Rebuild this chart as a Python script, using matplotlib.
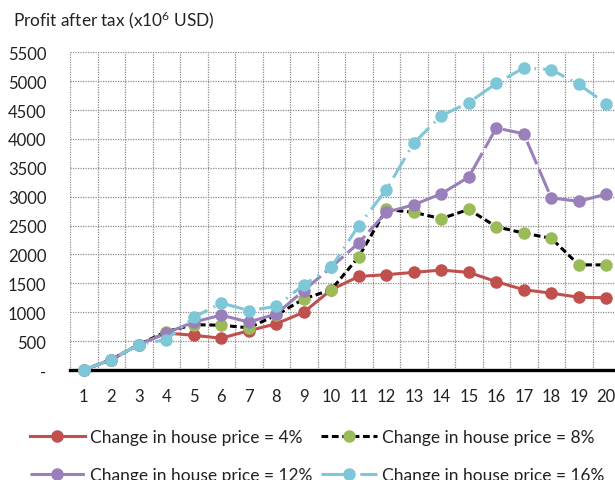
import matplotlib
matplotlib.use("Agg")
import matplotlib.pyplot as plt
from matplotlib.ticker import FixedLocator, FuncFormatter

plt.rcParams['font.family'] = ['Lato', 'DejaVu Sans']
plt.rcParams['mathtext.default'] = 'regular'

# ---------------------------------------------------------------------------
# Data
# ---------------------------------------------------------------------------
years = list(range(1, 21))

price_4 = [0, 180, 440, 640, 600, 550, 680, 800, 1000, 1390,
           1620, 1650, 1690, 1730, 1690, 1530, 1390, 1330, 1260, 1250]
price_8 = [0, 180, 440, 665, 785, 775, 730, 950, 1230, 1390,
           1960, 2780, 2730, 2620, 2780, 2480, 2370, 2280, 1820, 1820]
price_12 = [0, 180, 440, 640, 830, 950, 830, 970, 1375, 1780,
            2200, 2730, 2860, 3050, 3340, 4190, 4090, 2980, 2920, 3045]
price_16 = [0, 180, 440, 525, 910, 1160, 1030, 1100, 1475, 1780,
            2500, 3120, 3930, 4400, 4630, 4960, 5230, 5200, 4945, 4610]

labels = ['Change in house price = 4%', 'Change in house price = 8%',
          'Change in house price = 12%', 'Change in house price = 16%']

y_ticks = list(range(0, 5501, 500))

# ---------------------------------------------------------------------------
# Figure
# ---------------------------------------------------------------------------
fig = plt.figure(figsize=(6.15, 4.81), dpi=100)
ax = fig.add_axes([70 / 615, 1 - 371 / 481, 550 / 615, (371 - 53.3) / 481])

RED = '#C0504D'
GREEN = '#9BBB59'
PURPLE = '#9A80BB'
CYAN = '#7EC7D8'
LW = 2.2
MS = 8

l1, = ax.plot(years, price_4, color=RED, lw=LW, marker='o', ms=MS,
              mec=RED, mfc=RED, clip_on=False, zorder=3)
l2, = ax.plot(years, price_8, color='black', lw=LW, ls=(0, (2.2, 1.2)),
              marker='o', ms=MS, mec=GREEN, mfc=GREEN, clip_on=False, zorder=4)
l3, = ax.plot(years, price_12, color=PURPLE, lw=LW, ls=(0, (8, 1.8)),
              marker='o', ms=MS, mec=PURPLE, mfc=PURPLE, clip_on=False, zorder=5)
l4, = ax.plot(years, price_16, color=CYAN, lw=LW, ls=(0, (7.5, 2.3, 0.6, 2.3)),
              marker='o', ms=MS, mec=CYAN, mfc=CYAN, clip_on=False, zorder=6)

ax.set_xlim(0.5, 20.5)
ax.set_ylim(0, 5500)

ax.xaxis.set_major_locator(FixedLocator(years))
ax.xaxis.set_minor_locator(FixedLocator([x + 0.5 for x in range(0, 21)]))
ax.yaxis.set_major_locator(FixedLocator(y_ticks))
ax.yaxis.set_major_formatter(FuncFormatter(lambda v, p: '-' if v == 0 else f'{int(v)}'))

ax.grid(True, which='minor', axis='x', color='#8c8c8c', lw=0.9, ls=(0, (1, 1)))
ax.grid(True, which='major', axis='y', color='#8c8c8c', lw=0.9, ls=(0, (1, 1)))
ax.grid(False, which='major', axis='x')
ax.set_axisbelow(True)

for side in ['top', 'right', 'left']:
    ax.spines[side].set_visible(False)
ax.spines['bottom'].set_linewidth(2.4)
ax.spines['bottom'].set_color('black')
ax.spines['bottom'].set_zorder(2)

ax.tick_params(axis='both', which='both', length=0, labelsize=12, colors='#222222')
ax.tick_params(axis='y', pad=17)
ax.tick_params(axis='x', pad=13)

fig.text(13 / 615, 1 - 20 / 481, 'Profit after tax (x10$^6$ USD)',
         fontsize=12.4, color='#222222', va='center', ha='left')

# column-major fill: pass so rows read 4%, 8% / 12%, 16%
fig.legend([l1, l3, l2, l4], [labels[0], labels[2], labels[1], labels[3]],
           ncol=2, loc='center left',
           bbox_to_anchor=(14 / 615, 1 - 457 / 481), frameon=False,
           fontsize=12.5, handlelength=3.2, handletextpad=0.3,
           columnspacing=0.5, labelspacing=1.3, numpoints=1,
           labelcolor='#222222')

fig.savefig('out.png', dpi=100)
